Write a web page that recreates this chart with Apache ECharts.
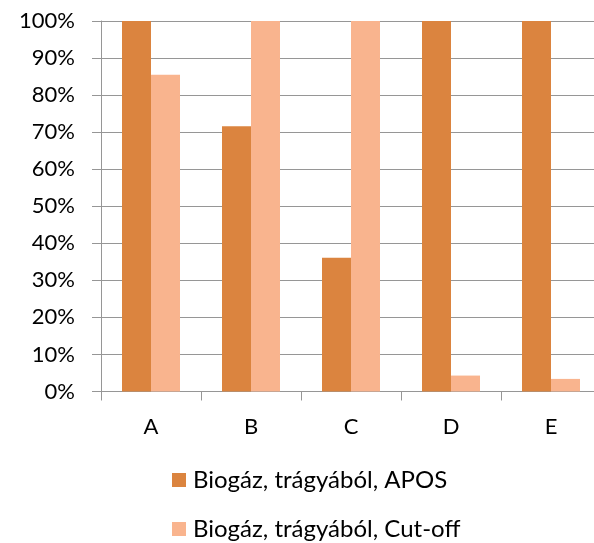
<!DOCTYPE html>
<html>
<head>
<meta charset="utf-8">
<script src="https://cdn.jsdelivr.net/npm/echarts@6/dist/echarts.min.js"></script>
<style>
html,body{margin:0;padding:0;background:#fff;overflow:hidden;}
#chart{width:594px;height:543px;}
</style>
</head>
<body>
<div id="chart"></div>
<script>
const categories = ['A', 'B', 'C', 'D', 'E'];
const seriesNames = ['Biogáz, trágyából, APOS', 'Biogáz, trágyából, Cut-off'];
const aposValues = [100, 71.6, 36.1, 100, 100];
const cutoffValues = [85.5, 100, 100, 4.3, 3.4];
const yTicks = [0, 100, 10];

const FONT = 'Lato';
const legendBase = {
  orient: 'vertical',
  left: 172,
  itemWidth: 14,
  itemHeight: 14,
  icon: 'rect',
  padding: 0,
  textStyle: {fontFamily: FONT, fontSize: 24, color: '#000', padding: [0, 0, 0, 2]}
};
const chart = echarts.init(document.getElementById('chart'), null, {renderer: 'canvas'});
chart.setOption({
  animation: false,
  textStyle: {fontFamily: FONT, color: '#000'},
  grid: {left: 101, top: 21, width: 500, height: 370.5, containLabel: false, outerBoundsMode: 'none'},
  legend: [
    Object.assign({}, legendBase, {top: 468, data: [seriesNames[0]]}),
    Object.assign({}, legendBase, {top: 517, data: [seriesNames[1]]})
  ],
  xAxis: {
    type: 'category',
    data: categories,
    axisLine: {lineStyle: {color: '#969696', width: 1}},
    axisTick: {show: true, length: 9, lineStyle: {color: '#969696'}},
    axisLabel: {fontFamily: FONT, fontSize: 22, color: '#000', margin: 24}
  },
  yAxis: {
    type: 'value',
    min: yTicks[0],
    max: yTicks[1],
    interval: yTicks[2],
    axisLine: {show: true, lineStyle: {color: '#969696', width: 1}},
    axisTick: {show: true, length: 9, lineStyle: {color: '#969696'}},
    splitLine: {show: true, lineStyle: {color: '#969696', width: 1}},
    axisLabel: {fontFamily: FONT, fontSize: 22, color: '#000', margin: 26, formatter: '{value}%'}
  },
  series: [
    {
      name: seriesNames[0],
      type: 'bar',
      data: aposValues,
      barWidth: 29,
      barGap: '0%',
      itemStyle: {color: '#DB843F'}
    },
    {
      name: seriesNames[1],
      type: 'bar',
      data: cutoffValues,
      barWidth: 29,
      barGap: '0%',
      itemStyle: {color: '#F9B48E'}
    }
  ]
});
</script>
</body>
</html>
